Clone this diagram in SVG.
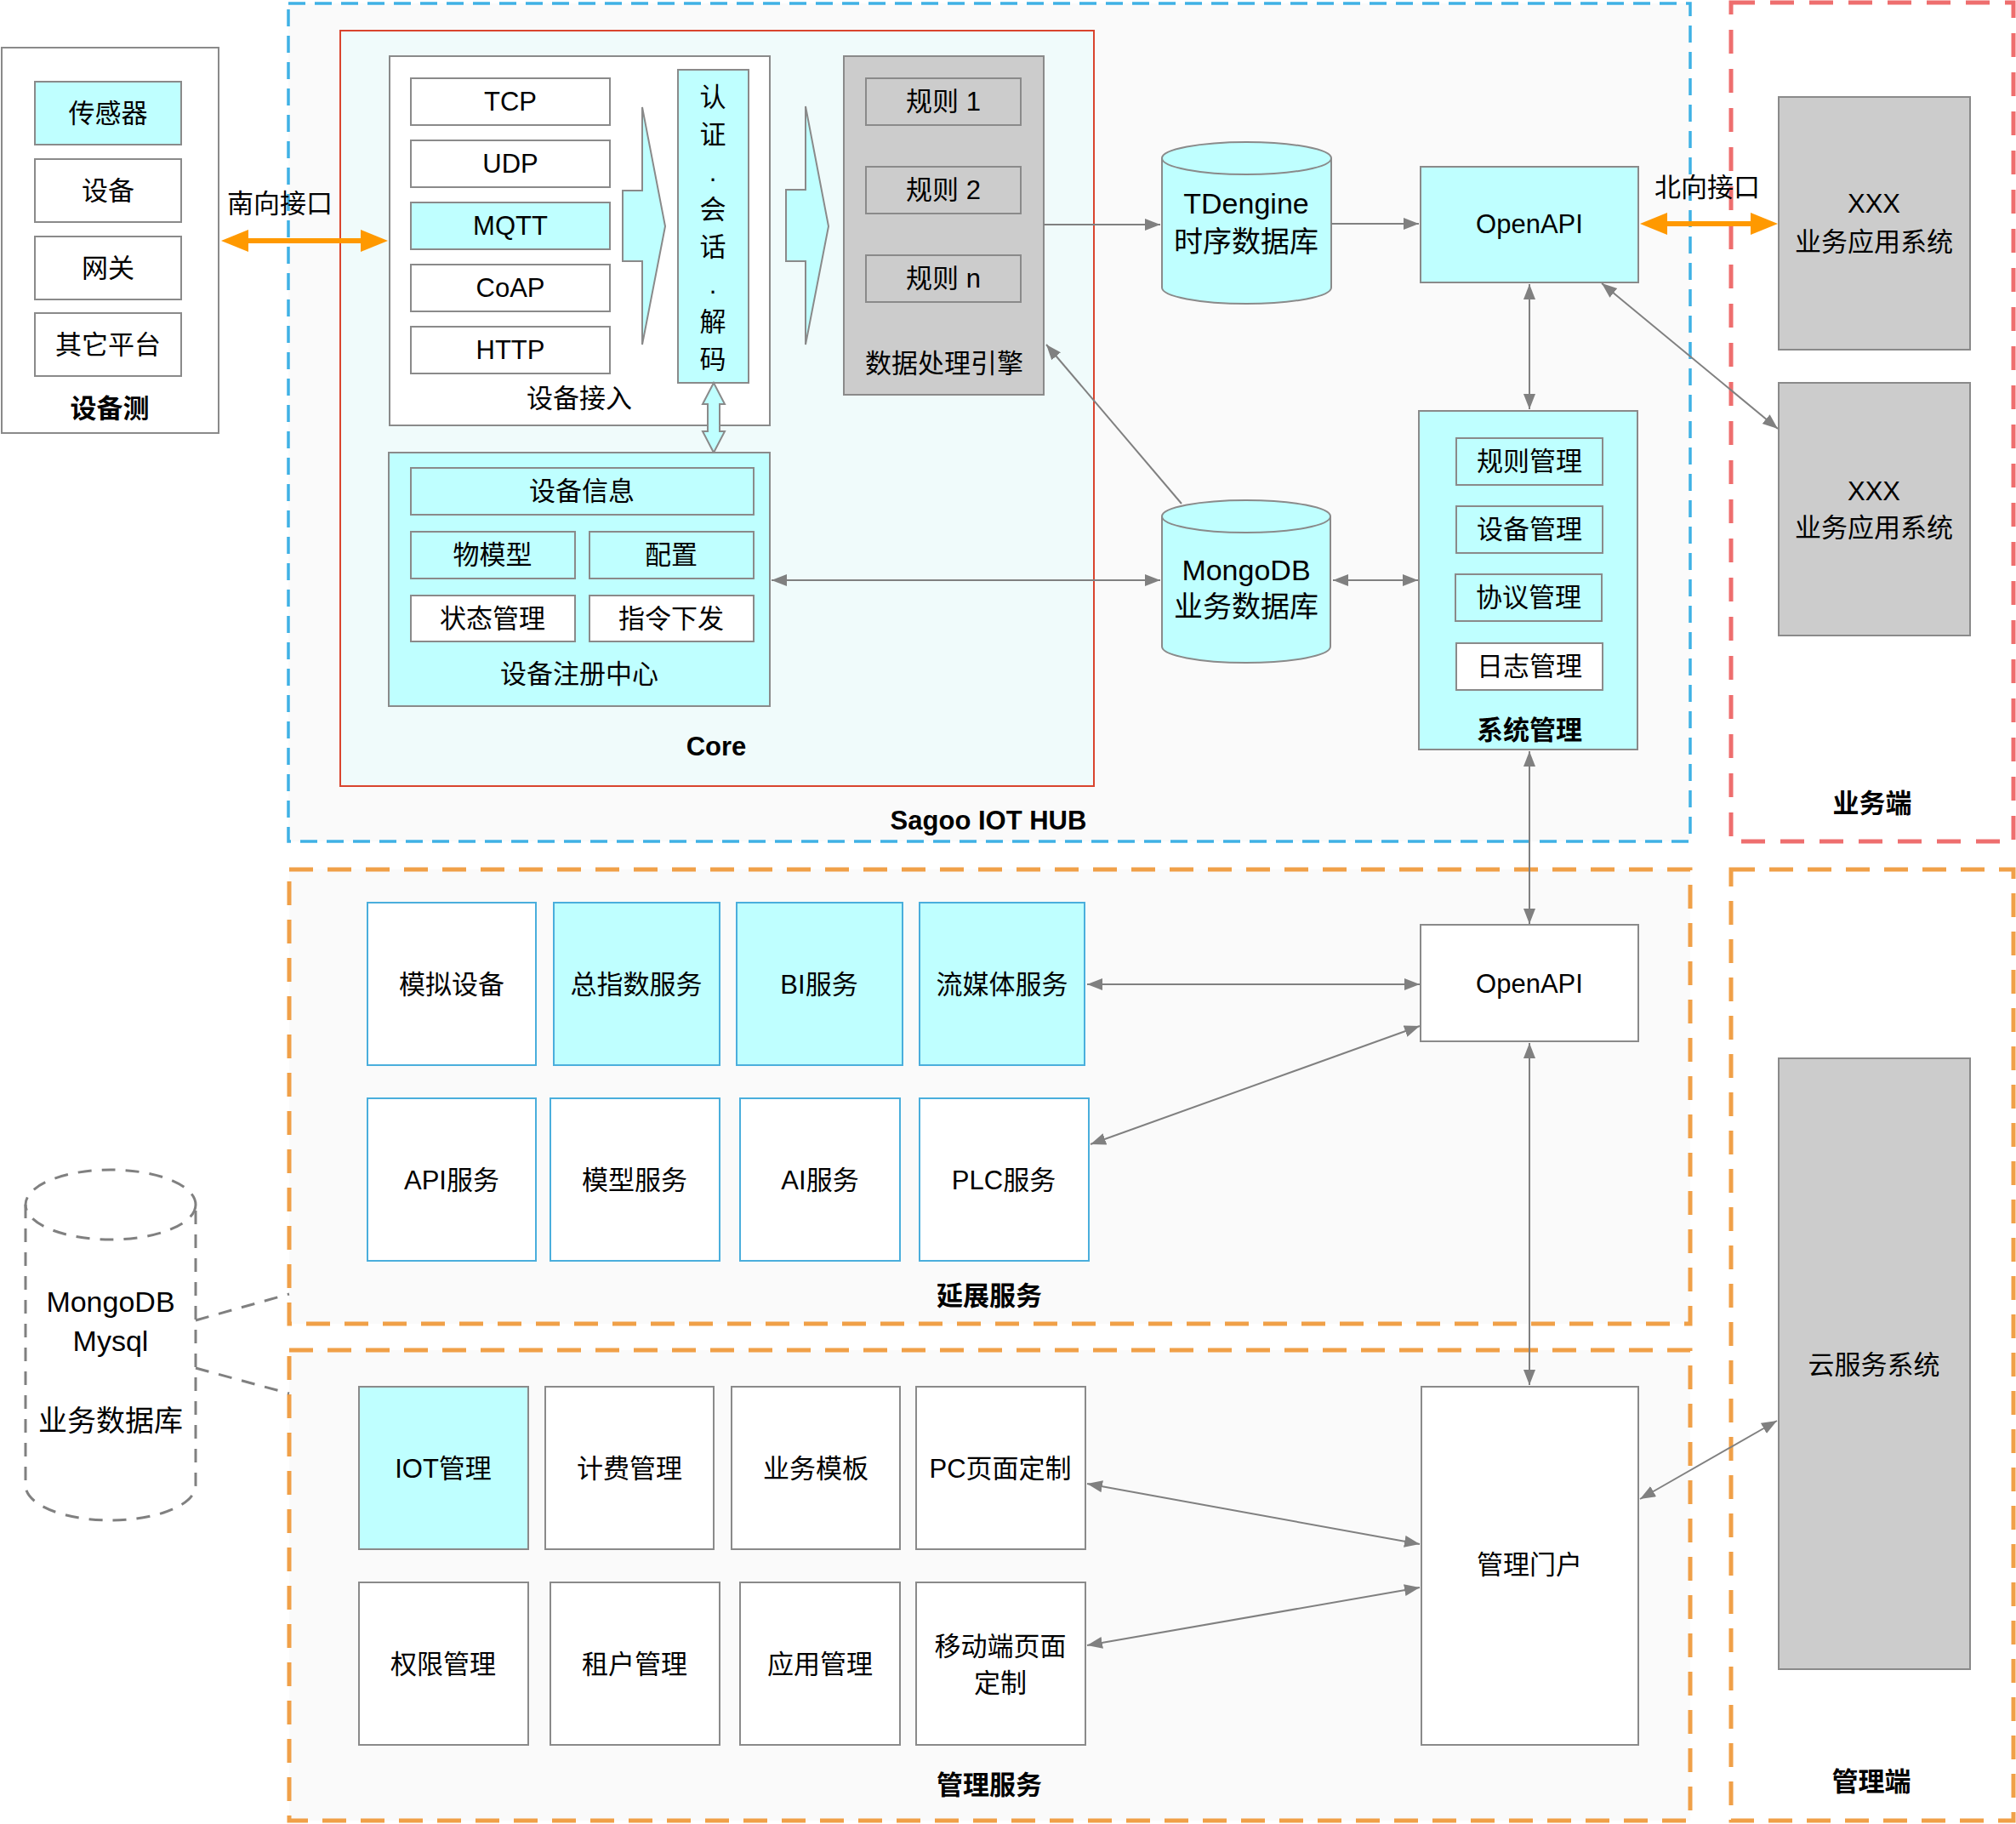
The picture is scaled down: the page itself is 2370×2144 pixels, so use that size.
<svg xmlns="http://www.w3.org/2000/svg" width="2370" height="2144" viewBox="0 0 2370 2144">
<defs>
<style>
text{font-family:"Liberation Sans","Noto Sans CJK SC",sans-serif;font-size:31px;fill:#000;text-anchor:middle;dominant-baseline:central}
.b{font-weight:bold}
.big{font-size:34px}
.box{fill:#fff;stroke:#8a8a8a;stroke-width:2}
.cy{fill:#bfffff;stroke:#8a8a8a;stroke-width:2}
.gr{fill:#cccccc;stroke:#8a8a8a;stroke-width:2}
.bw{fill:#fff;stroke:#4aaedc;stroke-width:2}
.bc{fill:#bfffff;stroke:#4aaedc;stroke-width:2}
.ln{fill:none;stroke:#808080;stroke-width:2}
.or{fill:none;stroke:#ff9900;stroke-width:6}
.dash{fill:none;stroke:#808080;stroke-width:3;stroke-dasharray:16 12}
.ob{stroke:#f0a048;stroke-width:5;stroke-dasharray:28 17}
</style>
<marker id="ga" markerUnits="userSpaceOnUse" markerWidth="20" markerHeight="16" refX="18" refY="7" orient="auto-start-reverse" viewBox="0 0 20 16">
<path d="M0,0 L18,7 L0,14 z" fill="#808080"/>
</marker>
<marker id="oa" markerUnits="userSpaceOnUse" markerWidth="34" markerHeight="28" refX="24" refY="13" orient="auto-start-reverse" viewBox="0 0 34 28">
<path d="M0,0 L32,13 L0,26 z" fill="#ff9900"/>
</marker>
</defs>
<rect width="2370" height="2144" fill="#fff"/>

<!-- region containers -->
<g id="hub">
<rect x="339" y="4" width="1648" height="985" fill="#fafafa" stroke="#3fb1e5" stroke-width="3.5" stroke-dasharray="20 11"/>
<text class="b" x="1162" y="964">Sagoo IOT HUB</text>
</g>
<g id="biz-side">
<rect x="2035" y="3" width="332" height="986" fill="#fff" stroke="#ee6e6e" stroke-width="5" stroke-dasharray="28 18"/>
<text class="b" x="2201" y="944">业务端</text>
</g>
<g id="ext-services">
<rect class="ob" x="340" y="1022" width="1647" height="534" fill="#fafafa"/>
<text class="b" x="1163" y="1523">延展服务</text>
</g>
<g id="mgmt-services">
<rect class="ob" x="340" y="1587" width="1647" height="553" fill="#fafafa"/>
<text class="b" x="1163" y="2098">管理服务</text>
</g>
<g id="mgmt-side">
<rect class="ob" x="2035" y="1022" width="332" height="1118" fill="#fff"/>
<text class="b" x="2200" y="2094">管理端</text>
</g>

<!-- device side -->
<g id="device-side">
<rect class="box" x="2" y="56" width="255" height="453"/>
<rect class="cy" x="41" y="96" width="172" height="74"/>
<text x="127" y="133">传感器</text>
<rect class="box" x="41" y="187" width="172" height="74"/>
<text x="127" y="224">设备</text>
<rect class="box" x="41" y="278" width="172" height="74"/>
<text x="127" y="315">网关</text>
<rect class="box" x="41" y="368" width="172" height="74"/>
<text x="127" y="405">其它平台</text>
<text class="b" x="129" y="480">设备测</text>
</g>

<!-- core -->
<g id="core">
<rect x="400" y="36" width="886" height="888" fill="#f0fbfb" stroke="#d9442e" stroke-width="2"/>
<text class="b" x="842" y="877">Core</text>
</g>

<g id="device-access">
<rect class="box" x="458" y="66" width="447" height="434"/>
<rect class="box" x="483" y="92" width="234" height="55"/>
<text x="600" y="119">TCP</text>
<rect class="box" x="483" y="165" width="234" height="55"/>
<text x="600" y="192">UDP</text>
<rect class="cy" x="483" y="238" width="234" height="55"/>
<text x="600" y="265">MQTT</text>
<rect class="box" x="483" y="311" width="234" height="55"/>
<text x="600" y="338">CoAP</text>
<rect class="box" x="483" y="384" width="234" height="55"/>
<text x="600" y="411">HTTP</text>
<text x="681" y="468">设备接入</text>
</g>

<g id="arrow-shape-1">
<polygon class="cy" points="732,224 755,224 755,126 782,266 755,405 755,307 732,307"/>
</g>

<g id="auth-session">
<rect class="cy" x="797" y="82" width="83" height="368"/>
<text x="838" y="114">认</text>
<text x="838" y="158">证</text>
<text x="838" y="202">.</text>
<text x="838" y="246">会</text>
<text x="838" y="290">话</text>
<text x="838" y="334">.</text>
<text x="838" y="378">解</text>
<text x="838" y="422">码</text>
</g>

<g id="hollow-double-arrow">
<polygon class="cy" points="839,450 852,475 846,475 846,507 852,507 839,532 826,507 832,507 832,475 826,475"/>
</g>

<g id="arrow-shape-2">
<polygon class="cy" points="924,223 947,223 947,125 974,266 947,405 947,307 924,307"/>
</g>

<g id="engine">
<rect class="gr" x="992" y="66" width="235" height="398"/>
<rect class="gr" x="1018" y="92" width="182" height="55"/>
<text x="1109" y="119">规则 1</text>
<rect class="gr" x="1018" y="196" width="182" height="55"/>
<text x="1109" y="223">规则 2</text>
<rect class="gr" x="1018" y="300" width="182" height="55"/>
<text x="1109" y="327">规则 n</text>
<text x="1110" y="427">数据处理引擎</text>
</g>

<g id="registry">
<rect class="cy" x="457" y="532" width="448" height="298"/>
<rect class="cy" x="483" y="550" width="403" height="55"/>
<text x="684" y="577">设备信息</text>
<rect class="cy" x="483" y="625" width="193" height="55"/>
<text x="579" y="652">物模型</text>
<rect class="cy" x="693" y="625" width="193" height="55"/>
<text x="789" y="652">配置</text>
<rect class="box" x="483" y="700" width="193" height="54"/>
<text x="579" y="727">状态管理</text>
<rect class="box" x="693" y="700" width="193" height="54"/>
<text x="789" y="727">指令下发</text>
<text x="681" y="792">设备注册中心</text>
</g>

<g id="tdengine">
<path class="cy" d="M1366,186 A99.5,19 0 0 1 1565,186 L1565,338 A99.5,19 0 0 1 1366,338 Z"/>
<path class="cy" d="M1366,186 A99.5,19 0 0 0 1565,186" fill="none"/>
<text class="big" x="1465" y="239">TDengine</text>
<text class="big" x="1465" y="284">时序数据库</text>
</g>

<g id="mongodb">
<path class="cy" d="M1366,607 A99,19 0 0 1 1564,607 L1564,760 A99,19 0 0 1 1366,760 Z"/>
<path class="cy" d="M1366,607 A99,19 0 0 0 1564,607" fill="none"/>
<text class="big" x="1465" y="670">MongoDB</text>
<text class="big" x="1465" y="713">业务数据库</text>
</g>

<g id="openapi-top">
<rect class="cy" x="1670" y="196" width="256" height="136"/>
<text x="1798" y="263">OpenAPI</text>
</g>

<g id="sys-mgmt">
<rect class="cy" x="1668" y="483" width="257" height="398"/>
<rect class="cy" x="1712" y="515" width="172" height="55"/>
<text x="1798" y="542">规则管理</text>
<rect class="cy" x="1712" y="595" width="172" height="55"/>
<text x="1798" y="622">设备管理</text>
<rect class="cy" x="1711" y="675" width="172" height="55"/>
<text x="1797" y="702">协议管理</text>
<rect class="box" x="1712" y="756" width="172" height="55"/>
<text x="1798" y="783">日志管理</text>
<text class="b" x="1798" y="858">系统管理</text>
</g>

<g id="xxx-1">
<rect class="gr" x="2091" y="114" width="225" height="297"/>
<text x="2203" y="239">XXX</text>
<text x="2203" y="284">业务应用系统</text>
</g>
<g id="xxx-2">
<rect class="gr" x="2091" y="450" width="225" height="297"/>
<text x="2203" y="577">XXX</text>
<text x="2203" y="620">业务应用系统</text>
</g>

<!-- extension services -->
<g id="sim-device"><rect class="bw" x="432" y="1061" width="198" height="191"/><text x="531" y="1157">模拟设备</text></g>
<g id="index-svc"><rect class="bc" x="651" y="1061" width="195" height="191"/><text x="748" y="1157">总指数服务</text></g>
<g id="bi-svc"><rect class="bc" x="866" y="1061" width="195" height="191"/><text x="963" y="1157">BI服务</text></g>
<g id="media-svc"><rect class="bc" x="1081" y="1061" width="194" height="191"/><text x="1178" y="1157">流媒体服务</text></g>
<g id="api-svc"><rect class="bw" x="432" y="1291" width="198" height="191"/><text x="531" y="1387">API服务</text></g>
<g id="model-svc"><rect class="bw" x="647" y="1291" width="199" height="191"/><text x="746" y="1387">模型服务</text></g>
<g id="ai-svc"><rect class="bw" x="870" y="1291" width="188" height="191"/><text x="964" y="1387">AI服务</text></g>
<g id="plc-svc"><rect class="bw" x="1081" y="1291" width="199" height="191"/><text x="1180" y="1387">PLC服务</text></g>
<g id="openapi-ext"><rect class="box" x="1670" y="1087" width="256" height="137"/><text x="1798" y="1156">OpenAPI</text></g>

<!-- management services -->
<g id="iot-mgmt"><rect class="cy" x="422" y="1630" width="199" height="191"/><text x="521" y="1726">IOT管理</text></g>
<g id="billing"><rect class="box" x="641" y="1630" width="198" height="191"/><text x="740" y="1726">计费管理</text></g>
<g id="biz-template"><rect class="box" x="860" y="1630" width="198" height="191"/><text x="959" y="1726">业务模板</text></g>
<g id="pc-page"><rect class="box" x="1077" y="1630" width="199" height="191"/><text x="1176" y="1726">PC页面定制</text></g>
<g id="perm"><rect class="box" x="422" y="1860" width="199" height="191"/><text x="521" y="1956">权限管理</text></g>
<g id="tenant"><rect class="box" x="647" y="1860" width="199" height="191"/><text x="746" y="1956">租户管理</text></g>
<g id="app-mgmt"><rect class="box" x="870" y="1860" width="188" height="191"/><text x="964" y="1956">应用管理</text></g>
<g id="mobile-page"><rect class="box" x="1077" y="1860" width="199" height="191"/><text x="1176" y="1935">移动端页面</text><text x="1176" y="1978">定制</text></g>
<g id="portal"><rect class="box" x="1671" y="1630" width="255" height="421"/><text x="1798" y="1839">管理门户</text></g>

<g id="cloud">
<rect class="gr" x="2091" y="1244" width="225" height="718"/>
<text x="2203" y="1604">云服务系统</text>
</g>

<g id="biz-db">
<ellipse class="dash" cx="130" cy="1416" rx="100" ry="41" fill="#fff"/>
<path class="dash" d="M30,1416 L30,1746 A100,41 0 0 0 230,1746 L230,1416"/>
<text class="big" x="130" y="1530">MongoDB</text>
<text class="big" x="130" y="1576">Mysql</text>
<text class="big" x="130" y="1670">业务数据库</text>
</g>

<!-- connectors -->
<g id="connectors">
<line class="or" x1="268" y1="283" x2="448" y2="283" marker-start="url(#oa)" marker-end="url(#oa)"/>
<text x="329" y="239">南向接口</text>
<line class="or" x1="1936" y1="263" x2="2082" y2="263" marker-start="url(#oa)" marker-end="url(#oa)"/>
<text x="2007" y="220">北向接口</text>
<line class="ln" x1="1227" y1="264" x2="1364" y2="264" marker-end="url(#ga)"/>
<line class="ln" x1="1565" y1="263" x2="1668" y2="263" marker-end="url(#ga)"/>
<line class="ln" x1="1389" y1="592" x2="1230" y2="405" marker-end="url(#ga)"/>
<line class="ln" x1="907" y1="682" x2="1364" y2="682" marker-start="url(#ga)" marker-end="url(#ga)"/>
<line class="ln" x1="1567" y1="682" x2="1667" y2="682" marker-start="url(#ga)" marker-end="url(#ga)"/>
<line class="ln" x1="1798" y1="334" x2="1798" y2="481" marker-start="url(#ga)" marker-end="url(#ga)"/>
<line class="ln" x1="1883" y1="333" x2="2090" y2="504" marker-start="url(#ga)" marker-end="url(#ga)"/>
<line class="ln" x1="1798" y1="883" x2="1798" y2="1086" marker-start="url(#ga)" marker-end="url(#ga)"/>
<line class="ln" x1="1278" y1="1157" x2="1669" y2="1157" marker-start="url(#ga)" marker-end="url(#ga)"/>
<line class="ln" x1="1282" y1="1345" x2="1669" y2="1206" marker-start="url(#ga)" marker-end="url(#ga)"/>
<line class="ln" x1="1798" y1="1226" x2="1798" y2="1628" marker-start="url(#ga)" marker-end="url(#ga)"/>
<line class="ln" x1="1278" y1="1744" x2="1669" y2="1815" marker-start="url(#ga)" marker-end="url(#ga)"/>
<line class="ln" x1="1278" y1="1934" x2="1669" y2="1866" marker-start="url(#ga)" marker-end="url(#ga)"/>
<line class="ln" x1="1928" y1="1762" x2="2089" y2="1670" marker-start="url(#ga)" marker-end="url(#ga)"/>
<line class="dash" x1="230" y1="1552" x2="340" y2="1521"/>
<line class="dash" x1="230" y1="1608" x2="340" y2="1638"/>
</g>
</svg>
